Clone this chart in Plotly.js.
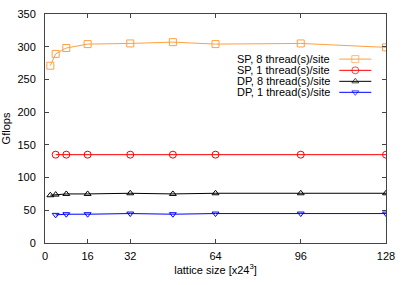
<!DOCTYPE html>
<html>
<head>
<meta charset="utf-8">
<script src="https://cdn.plot.ly/plotly-3.0.1.min.js"></script>
<style>html,body{margin:0;padding:0;background:#fff;}#chart{width:407px;height:285px;}</style>
</head>
<body>
<div id="chart"></div>
<script>
// Data
const seriesNames = ["SP, 8 thread(s)/site", "SP, 1 thread(s)/site", "DP, 8 thread(s)/site", "DP, 1 thread(s)/site"];
const xSP8 = [2, 4, 8, 16, 32, 48, 64, 96, 128];
const ySP8 = [271, 289, 298, 304, 305, 307, 304, 305, 299];
const xSP1 = [4, 8, 16, 32, 48, 64, 96, 128];
const ySP1 = [135, 135, 135, 135, 135, 135, 135, 135];
const xDP8 = [2, 4, 8, 16, 32, 48, 64, 96, 128];
const yDP8 = [73, 74, 75, 75, 76, 75, 76, 76, 76];
const xDP1 = [4, 8, 16, 32, 48, 64, 96, 128];
const yDP1 = [43, 44, 44, 45, 44, 45, 45, 45];
const xTicks = [0, 16, 32, 64, 96, 128];
const yTicks = [0, 50, 100, 150, 200, 250, 300, 350];

const colors = ["#ffa040", "#ff0000", "#000000", "#0000ff"];
const symbols = ["square-open", "circle-open", "triangle-up-open", "triangle-down-open"];
const sizes = [7, 7, 6, 6];
const xs = [xSP8, xSP1, xDP8, xDP1];
const ys = [ySP8, ySP1, yDP8, yDP1];

const traces = [];
for (let i = 0; i < 4; i++) {
  traces.push({
    x: xs[i], y: ys[i], type: "scatter", mode: "lines+markers",
    name: seriesNames[i], showlegend: false, hoverinfo: "skip",
    line: {color: colors[i], width: 1},
    marker: {symbol: symbols[i], size: sizes[i], color: colors[i], line: {width: 1, color: colors[i]}}
  });
}

// custom legend (sample on the right of the text, as in gnuplot)
const legRowY = [0.803, 0.754, 0.706, 0.658];
const annotations = [];
for (let i = 0; i < 4; i++) {
  traces.push({
    x: [0.863, 0.91, 0.957], y: [legRowY[i], legRowY[i], legRowY[i]],
    xaxis: "x2", yaxis: "y2", type: "scatter", mode: "lines+markers",
    showlegend: false, hoverinfo: "skip",
    line: {color: colors[i], width: 1},
    marker: {symbol: symbols[i], size: [0, sizes[i], 0], color: colors[i], line: {width: 1, color: colors[i]}}
  });
  annotations.push({
    xref: "paper", yref: "paper", x: 0.843, y: legRowY[i],
    xanchor: "right", yanchor: "middle", showarrow: false,
    text: seriesNames[i], font: {family: "Liberation Sans, Arial, sans-serif", size: 11, color: "#000"}
  });
}

const axisCommon = {
  showline: true, linecolor: "#444", linewidth: 1, mirror: "allticks",
  ticks: "inside", ticklen: 4, tickcolor: "#444", tickwidth: 1,
  showgrid: false, zeroline: false,
  tickfont: {family: "Liberation Sans, Arial, sans-serif", size: 11, color: "#000"}
};

const layout = {
  width: 407, height: 285,
  margin: {l: 45, r: 21, t: 14, b: 42},
  paper_bgcolor: "#fff", plot_bgcolor: "#fff",
  showlegend: false,
  hovermode: false,
  xaxis: Object.assign({}, axisCommon, {
    range: [0, 128], tickvals: xTicks, ticklabelstandoff: 3,
    title: {text: "lattice size [x24<sup>3</sup>]", standoff: 2,
      font: {family: "Liberation Sans, Arial, sans-serif", size: 11, color: "#000"}}
  }),
  yaxis: Object.assign({}, axisCommon, {
    range: [0, 350], tickvals: yTicks, ticklabelstandoff: 6,
    title: {text: "Gflops", standoff: 10,
      font: {family: "Liberation Sans, Arial, sans-serif", size: 11, color: "#000"}}
  }),
  xaxis2: {overlaying: "x", range: [0, 1], visible: false, fixedrange: true},
  yaxis2: {overlaying: "y", range: [0, 1], visible: false, fixedrange: true},
  annotations: annotations
};

Plotly.newPlot("chart", traces, layout, {displayModeBar: false, staticPlot: true});
</script>
</body>
</html>
